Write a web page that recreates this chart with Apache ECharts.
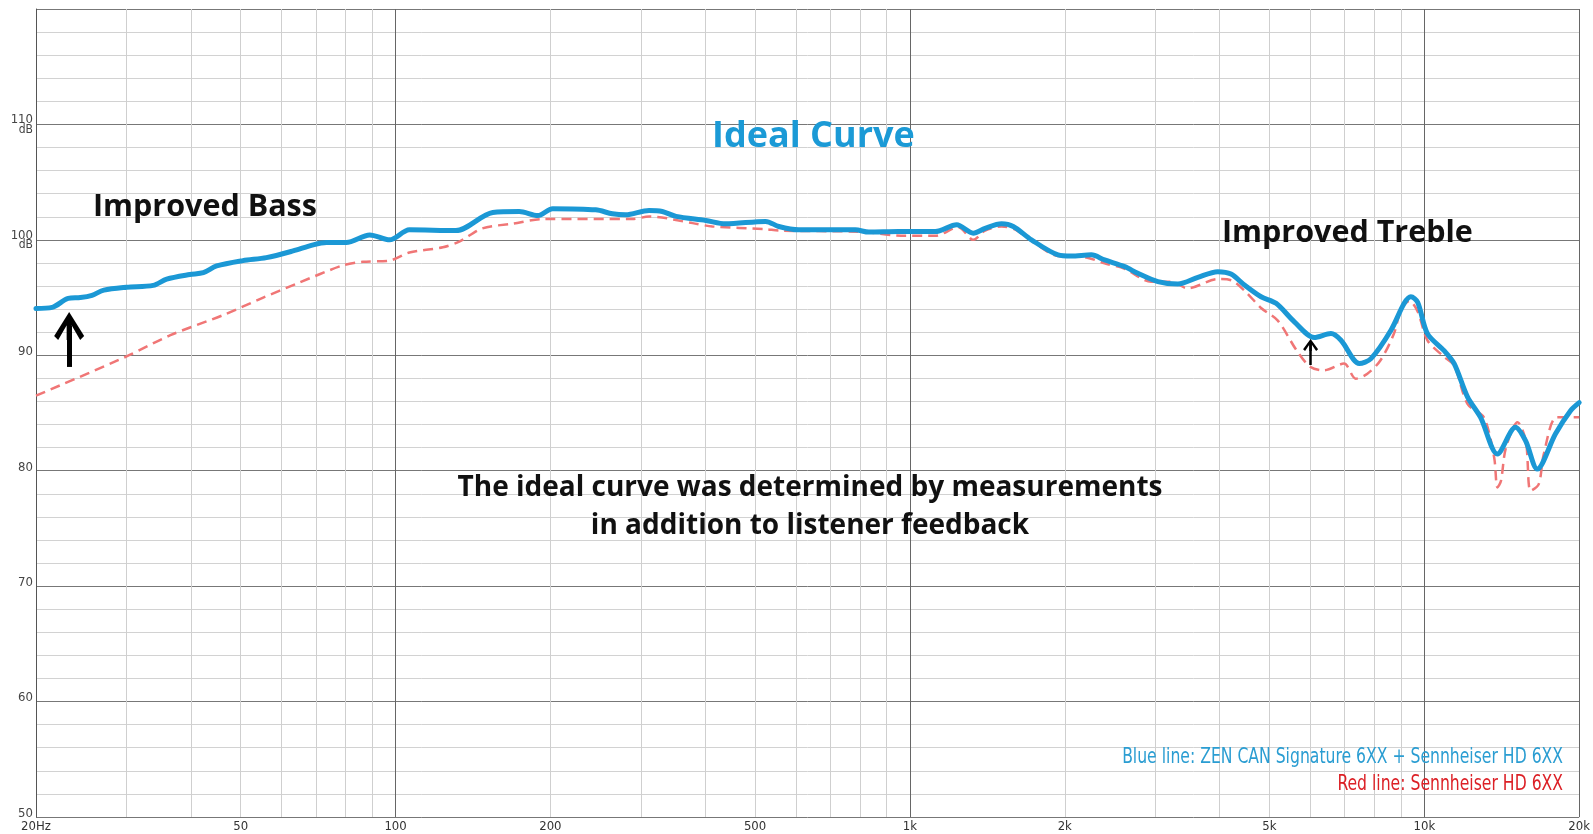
<!DOCTYPE html>
<html>
<head>
<meta charset="utf-8">
<title>Ideal Curve</title>
<script src="https://cdn.jsdelivr.net/npm/echarts@6/dist/echarts.min.js"></script>
<style>
  html, body { margin: 0; padding: 0; background: #fff; }
  #main { width: 1593px; height: 834px; }
</style>
</head>
<body>
<div id="main"></div>
<script>
// blue: ZEN CAN Signature 6XX + HD 6XX
var blueFreq = [20, 21.5, 23.1, 24.4, 25.7, 27.1, 30, 33.8, 35.9, 39.8, 42.3, 44.9, 50.5, 56.1, 63.2, 69.2, 73.4, 80.2, 89.1, 97.4,
  106.4, 131, 154.5, 174, 189, 202, 245, 264, 280, 311, 330, 351, 401, 438, 524, 556, 608, 783, 832, 950,
  1120, 1233, 1328, 1400, 1507, 1588, 1723, 1940, 2059, 2252, 2390, 2615, 2774, 3034, 3318, 3629, 3966, 4209, 4470, 4815,
  5150, 5589, 6112, 6582, 6886, 7474, 7876, 8612, 9139, 9415, 9705, 10140, 10926, 11430, 12130, 12870, 13870, 15040, 15730, 16580,
  17990, 19240, 20000];
var blueDb = [94.06, 94.15, 94.93, 95.0, 95.2, 95.65, 95.9, 96.06, 96.6, 97.0, 97.16, 97.74, 98.2, 98.46, 99.04, 99.57, 99.77, 99.77, 100.43, 100.0,
  100.87, 100.8, 102.37, 102.46, 102.1, 102.7, 102.6, 102.26, 102.17, 102.55, 102.46, 102.03, 101.68, 101.39, 101.6, 101.16, 100.87, 100.87, 100.67, 100.72,
  100.72, 101.3, 100.58, 101.0, 101.39, 101.16, 100.0, 98.7, 98.6, 98.7, 98.26, 97.68, 97.1, 96.38, 96.17, 96.75, 97.24, 97.04, 96.09, 95.07,
  94.5, 92.9, 91.54, 91.88, 91.3, 89.28, 89.71, 92.17, 94.5, 95.07, 94.6, 91.88, 90.4, 89.28, 86.4, 84.6, 81.45, 83.76, 82.6, 80.14,
  83.2, 85.2, 85.9];

// red: Sennheiser HD 6XX alone
var redFreq = [20, 30, 36.5, 46.2, 55.3, 64.2, 79.1, 86.4, 97.3, 106.4, 123.6, 133, 147.6, 169, 193, 289, 311, 378, 413, 524,
  556, 795, 980, 1120, 1242, 1328, 1400, 1507, 1600, 1723, 1940, 2190, 2390, 2615, 2945, 3222, 3467, 3966, 4209, 4470,
  4815, 5190, 5650, 6010, 6380, 6980, 7360, 7750, 8220, 8730, 9000, 9350, 9705, 10140, 10900, 11430, 12130, 13060, 13670, 13870,
  14090, 14410, 15180, 15750, 16090, 16690, 17070, 18110, 20000];
var redDb = [86.5, 89.9, 91.74, 93.48, 95.0, 96.2, 97.8, 98.1, 98.2, 98.9, 99.36, 99.85, 101.0, 101.4, 101.8, 101.8, 102.03, 101.45, 101.16, 100.93,
  100.8, 100.7, 100.35, 100.35, 101.1, 100.0, 100.8, 101.16, 100.9, 99.9, 98.6, 98.5, 97.97, 97.5, 96.38, 96.38, 95.8, 96.6, 96.5, 95.6,
  94.1, 93.0, 90.4, 88.98, 88.7, 89.28, 87.97, 88.4, 89.57, 91.88, 93.9, 94.7, 93.8, 91.3, 89.9, 89.1, 85.8, 84.6, 81.15, 78.55,
  79.1, 82.0, 84.2, 82.6, 78.26, 78.84, 81.45, 84.63, 84.63];

// axis ticks
var labelFreqs = [20, 50, 100, 200, 500, 1000, 2000, 5000, 10000, 20000];
var labelTexts = ['20Hz', '50', '100', '200', '500', '1k', '2k', '5k', '10k', '20k'];
var minorFreqs = [30, 40, 50, 60, 70, 80, 90, 200, 300, 400, 500, 600, 700, 800, 900,
  2000, 3000, 4000, 5000, 6000, 7000, 8000, 9000];
var decadeFreqs = [100, 1000, 10000, 20000];

var lg = function (f) { return Math.log10(f); };
var pairs = function (fs, ds) { return fs.map(function (f, i) { return [lg(f), ds[i]]; }); };

var narrow = "'Liberation Sans Narrow', 'DejaVu Sans Condensed', sans-serif";
var headFont = "'Open Sans', 'Noto Sans', sans-serif";
var plotH = 808;
var chevron = 'path://M15,0 L30,24 L26,28 L15,9 L4,28 L0,24 Z M12.5,4 L17.5,4 L17.5,28 L12.5,28 Z';

var myChart = echarts.init(document.getElementById('main'));

var option = {
  animation: false,
  backgroundColor: '#fff',
  grid: { left: 36, right: 10, top: 9, bottom: 17 },
  xAxis: [
    {
      type: 'value',
      min: lg(20), max: lg(20000),
      splitLine: { show: false },
      axisLine: { show: false },
      axisTick: {
        show: true, inside: true, length: plotH,
        customValues: minorFreqs.map(lg),
        lineStyle: { color: '#cfcfcf', width: 1 }
      },
      axisLabel: {
        customValues: labelFreqs.map(lg),
        margin: 3,
        color: '#333',
        fontFamily: narrow,
        fontSize: 13,
        formatter: function (v) {
          for (var i = 0; i < labelFreqs.length; i++) {
            if (Math.abs(lg(labelFreqs[i]) - v) < 1e-6) return labelTexts[i];
          }
          return '';
        }
      }
    },
    {
      type: 'value',
      position: 'bottom',
      min: lg(20), max: lg(20000),
      splitLine: { show: false },
      axisLine: { show: false },
      axisLabel: { show: false },
      axisTick: {
        show: true, inside: true, length: plotH,
        customValues: decadeFreqs.map(lg),
        lineStyle: { color: '#666', width: 1 }
      }
    }
  ],
  yAxis: {
    type: 'value',
    min: 50, max: 120, interval: 10,
    axisLine: { show: true, lineStyle: { color: '#555', width: 1 } },
    axisTick: { show: false },
    splitLine: { lineStyle: { color: '#777', width: 1 } },
    minorTick: { show: false, splitNumber: 5 },
    minorSplitLine: { show: true, lineStyle: { color: '#d2d2d2', width: 1 } },
    axisLabel: {
      margin: 3,
      color: '#444',
      fontFamily: narrow,
      fontSize: 13,
      formatter: function (v) {
        if (v === 120) return '';
        if (v === 100 || v === 110) return '{n|' + v + '}\n{d|dB}';
        return '{p|' + v + '}';
      },
      rich: {
        n: { fontFamily: narrow, fontSize: 13, lineHeight: 10, color: '#444', align: 'right' },
        d: { fontFamily: narrow, fontSize: 12, lineHeight: 9, color: '#444', align: 'right' },
        p: { fontFamily: narrow, fontSize: 13, lineHeight: 13, color: '#444', padding: [0, 0, 7, 0] }
      }
    }
  },
  series: [
    {
      name: 'Red line: Sennheiser HD 6XX',
      type: 'line',
      data: pairs(redFreq, redDb),
      showSymbol: false,
      smooth: 0.3,
      z: 3,
      lineStyle: { color: '#f07676', width: 2.5, type: [10, 6] }
    },
    {
      name: 'Blue line: ZEN CAN Signature 6XX + Sennheiser HD 6XX',
      type: 'line',
      data: pairs(blueFreq, blueDb),
      showSymbol: false,
      smooth: 0.3,
      z: 4,
      lineStyle: { color: '#1b98d5', width: 5, cap: 'round', join: 'round' },
      markLine: {
        silent: true,
        label: { show: false },
        data: [
          [
            { coord: [lg(23.2), 88.99], symbol: 'none', lineStyle: { color: '#000', width: 5, type: 'solid' } },
            { coord: [lg(23.2), 92.54], symbol: chevron, symbolSize: [30, 28] }
          ],
          [
            { coord: [lg(6010), 89.16], symbol: 'none', lineStyle: { color: '#000', width: 2.5, type: 'solid' } },
            { coord: [lg(6010), 90.89], symbol: chevron, symbolSize: [15, 12] }
          ]
        ]
      }
    }
  ],
  // annotation texts sit above the grid
  graphic: [
    { type: 'text', z: 100, left: 712, top: 119, style: { text: 'Ideal Curve', font: "bold 36px " + headFont, fill: '#1b9ad6' } },
    { type: 'text', z: 100, left: 93, top: 192, style: { text: 'Improved Bass', font: "bold 30.5px " + headFont, fill: '#111' } },
    { type: 'text', z: 100, left: 1222, top: 218, style: { text: 'Improved Treble', font: "bold 30.5px " + headFont, fill: '#111' } },
    { type: 'text', z: 100, x: 810, y: 507, style: {
        text: 'The ideal curve was determined by measurements\nin addition to listener feedback',
        font: "bold 28px " + headFont, fill: '#111', textAlign: 'center', textVerticalAlign: 'middle', lineHeight: 38 } },
    { type: 'text', z: 100, x: 1563, y: 757, scaleX: 0.79, style: { text: 'Blue line: ZEN CAN Signature 6XX + Sennheiser HD 6XX',
        font: "22px " + narrow, fill: '#2a9dd2', textAlign: 'right', textVerticalAlign: 'middle' } },
    { type: 'text', z: 100, x: 1563, y: 784, scaleX: 0.79, style: { text: 'Red line: Sennheiser HD 6XX',
        font: "22px " + narrow, fill: '#dc2026', textAlign: 'right', textVerticalAlign: 'middle' } }
  ]
};

myChart.setOption(option);
</script>
</body>
</html>
